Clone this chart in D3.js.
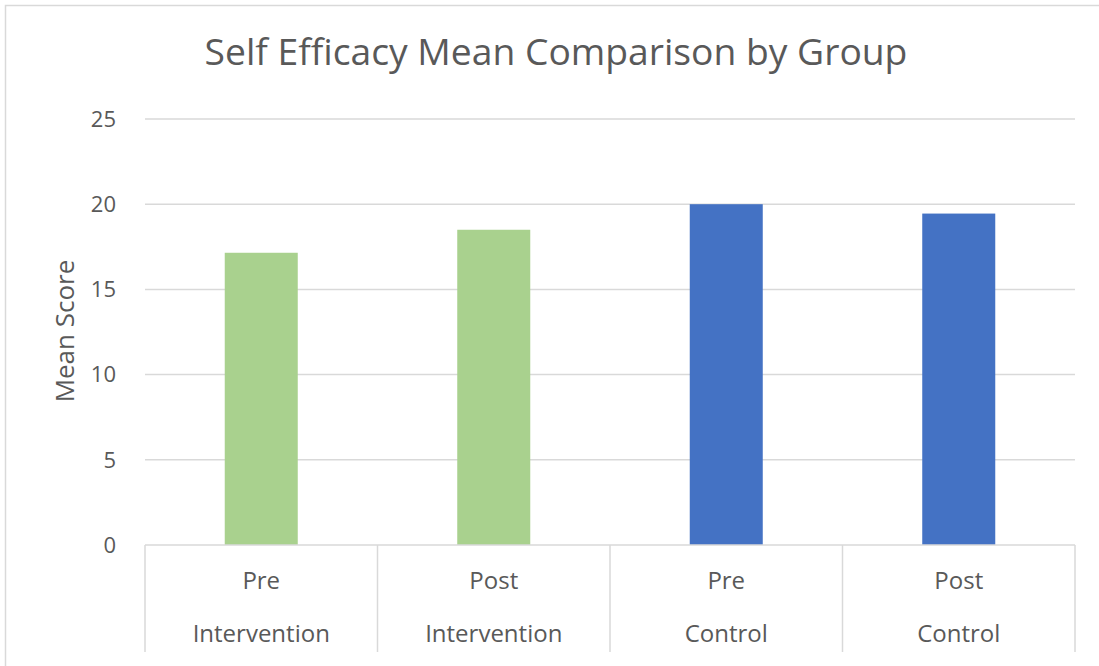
<!DOCTYPE html>
<html>
<head>
    <title>Self Efficacy Mean Comparison by Group</title>
    <script src="https://d3js.org/d3.v7.min.js"></script>
    <style>
        body { margin: 0; background: #fff; }
        svg { display: block; font-family: "Open Sans", sans-serif; }
        .grid line { stroke: #d9d9d9; stroke-width: 1.5px; }
        .tick-label { fill: #595959; font-size: 22px; }
    </style>
</head>
<body>
    <div id="chart"></div>
    <script>
        // chart data
        const phases = ["Pre", "Post", "Pre", "Post"];
        const groups = ["Intervention", "Intervention", "Control", "Control"];
        const means = [17.15, 18.5, 20.0, 19.45];
        const yTicks = [0, 5, 10, 15, 20, 25];
        const groupColors = { "Intervention": "#a9d18e", "Control": "#4472c4" };

        const width = 1099, height = 666;
        const plotLeft = 145, plotRight = 1075, plotTop = 119, plotBottom = 545;

        const svg = d3.select("#chart").append("svg")
            .attr("width", width)
            .attr("height", height);

        // outer chart frame (runs off the right and bottom edges)
        svg.append("rect")
            .attr("x", 5.5).attr("y", 5.5)
            .attr("width", 1200).attr("height", 800)
            .attr("fill", "none")
            .attr("stroke", "#d9d9d9")
            .attr("stroke-width", 1.5);

        const y = d3.scaleLinear().domain([0, 25]).range([plotBottom, plotTop]);
        const idx = d3.range(means.length);
        const x = d3.scaleBand().domain(idx).range([plotLeft, plotRight])
            .paddingInner(0.686).paddingOuter(0.343);
        const cell = d3.scaleBand().domain(idx).range([plotLeft, plotRight]);

        // gridlines
        svg.append("g").attr("class", "grid")
            .selectAll("line")
            .data(yTicks.filter(d => d > 0))
            .enter().append("line")
            .attr("x1", plotLeft).attr("x2", plotRight)
            .attr("y1", d => y(d)).attr("y2", d => y(d));

        // y tick labels
        svg.append("g")
            .selectAll("text")
            .data(yTicks)
            .enter().append("text")
            .attr("class", "tick-label")
            .attr("x", 116)
            .attr("y", d => y(d))
            .attr("dy", "0.35em")
            .attr("text-anchor", "end")
            .text(d => d);

        // bars
        svg.append("g")
            .selectAll("rect")
            .data(idx)
            .enter().append("rect")
            .attr("x", i => x(i))
            .attr("width", x.bandwidth())
            .attr("y", i => y(means[i]))
            .attr("height", i => y(0) - y(means[i]))
            .attr("fill", i => groupColors[groups[i]]);

        // category table under the axis
        const table = svg.append("g");
        table.append("line")
            .attr("x1", plotLeft).attr("x2", plotRight)
            .attr("y1", plotBottom).attr("y2", plotBottom)
            .attr("stroke", "#d9d9d9").attr("stroke-width", 1.5);
        table.selectAll("line.div")
            .data(idx.concat([means.length]))
            .enter().append("line")
            .attr("class", "div")
            .attr("x1", i => i < means.length ? cell(i) : plotRight)
            .attr("x2", i => i < means.length ? cell(i) : plotRight)
            .attr("y1", plotBottom).attr("y2", 652)
            .attr("stroke", "#d9d9d9").attr("stroke-width", 1.5);

        table.selectAll("text.phase")
            .data(idx)
            .enter().append("text")
            .attr("class", "tick-label phase")
            .attr("x", i => cell(i) + cell.bandwidth() / 2)
            .attr("y", 589)
            .attr("text-anchor", "middle")
            .style("font-size", "24px")
            .text(i => phases[i]);

        table.selectAll("text.group")
            .data(idx)
            .enter().append("text")
            .attr("class", "tick-label group")
            .attr("x", i => cell(i) + cell.bandwidth() / 2)
            .attr("y", 642)
            .attr("text-anchor", "middle")
            .style("font-size", "24px")
            .text(i => groups[i]);

        // axis title
        svg.append("text")
            .attr("transform", "translate(74,331) rotate(-90)")
            .attr("text-anchor", "middle")
            .attr("fill", "#595959")
            .style("font-size", "26px")
            .text("Mean Score");

        // chart title, scaled to the reference width
        const title = svg.append("text")
            .attr("x", 556)
            .attr("y", 65)
            .attr("text-anchor", "middle")
            .attr("fill", "#595959")
            .style("font-size", "34px")
            .text("Self Efficacy Mean Comparison by Group");
        const tw = title.node().getComputedTextLength();
        title.style("font-size", (34 * 703 / tw) + "px");
    </script>
</body>
</html>
